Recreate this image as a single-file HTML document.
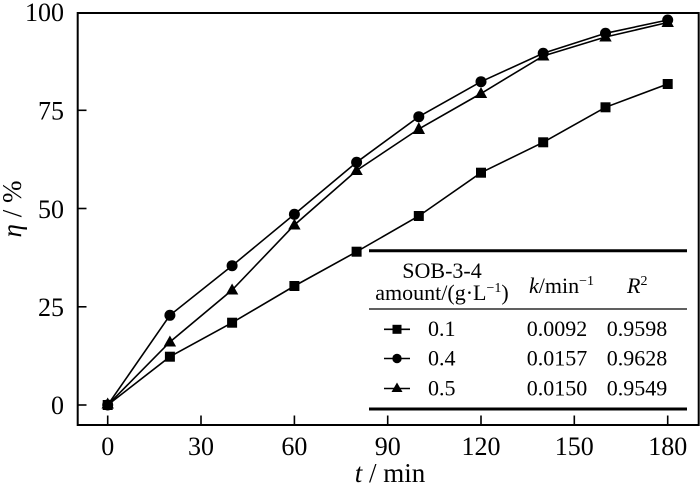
<!DOCTYPE html>
<html>
<head>
<meta charset="utf-8">
<style>
html,body{margin:0;padding:0;background:#fff;}
svg{display:block;}
text{font-family:"Liberation Serif","DejaVu Serif",serif;fill:#000;}
</style>
</head>
<body>
<svg width="700" height="489" viewBox="0 0 700 489" xmlns="http://www.w3.org/2000/svg">
  <!-- frame -->
  <rect x="77.7" y="13" width="621" height="412" fill="none" stroke="#000" stroke-width="2"/>
  <!-- y ticks -->
  <g stroke="#000" stroke-width="1.6">
    <line x1="77.7" y1="405" x2="86.5" y2="405"/>
    <line x1="77.7" y1="306.8" x2="86.5" y2="306.8"/>
    <line x1="77.7" y1="208.5" x2="86.5" y2="208.5"/>
    <line x1="77.7" y1="110.3" x2="86.5" y2="110.3"/>
    <!-- x ticks -->
    <line x1="107.7" y1="425" x2="107.7" y2="415.5"/>
    <line x1="201" y1="425" x2="201" y2="415.5"/>
    <line x1="294.4" y1="425" x2="294.4" y2="415.5"/>
    <line x1="387.7" y1="425" x2="387.7" y2="415.5"/>
    <line x1="481" y1="425" x2="481" y2="415.5"/>
    <line x1="574.3" y1="425" x2="574.3" y2="415.5"/>
    <line x1="667.7" y1="425" x2="667.7" y2="415.5"/>
  </g>
  <!-- y tick labels -->
  <g font-size="26" text-anchor="end">
    <text x="64" y="414">0</text>
    <text x="64" y="316">25</text>
    <text x="64" y="218">50</text>
    <text x="64" y="119.5">75</text>
    <text x="64" y="21">100</text>
  </g>
  <!-- x tick labels -->
  <g font-size="26" text-anchor="middle">
    <text x="107.7" y="455">0</text>
    <text x="201" y="455">30</text>
    <text x="294.4" y="455">60</text>
    <text x="387.7" y="455">90</text>
    <text x="481" y="455">120</text>
    <text x="574.3" y="455">150</text>
    <text x="667.7" y="455">180</text>
  </g>
  <!-- axis titles -->
  <text x="390" y="482" font-size="27" text-anchor="middle"><tspan font-style="italic">t</tspan> / min</text>
  <text transform="translate(21,209) rotate(-90)" font-size="27" text-anchor="middle"><tspan font-style="italic">η</tspan> / %</text>

  <!-- series lines -->
  <g fill="none" stroke="#000" stroke-width="1.6">
    <polyline points="107.7,405 169.9,356.7 232.1,322.7 294.4,286 356.6,251.7 418.8,216 481,172.7 543.2,142.3 605.5,107.3 667.7,84"/>
    <polyline points="107.7,405 169.9,315.3 232.1,265.7 294.4,214.3 356.6,162.3 418.8,116.7 481,81.7 543.2,53.3 605.5,33.3 667.7,20"/>
    <polyline points="107.7,405 169.9,342 232.1,290 294.4,225 356.6,170.5 418.8,129 481,93.5 543.2,56 605.5,37 667.7,22.5"/>
  </g>
  <!-- triangles -->
  <g fill="#000">
    <polygon points="107.7,397.5 101.5,408.5 113.9,408.5"/>
    <polygon points="169.9,335.5 163.7,346.5 176.1,346.5"/>
    <polygon points="232.1,283.5 225.9,294.5 238.3,294.5"/>
    <polygon points="294.4,218.5 288.2,229.5 300.6,229.5"/>
    <polygon points="356.6,164 350.4,175 362.8,175"/>
    <polygon points="418.8,122 412.6,134 425,134"/>
    <polygon points="481,87 474.8,98 487.2,98"/>
    <polygon points="543.2,49.5 537,60.5 549.4,60.5"/>
    <polygon points="605.5,30.5 599.3,41.5 611.7,41.5"/>
    <polygon points="667.7,16 661.5,27 673.9,27"/>
  </g>
  <!-- circles -->
  <g fill="#000">
    <circle cx="107.7" cy="405" r="5.5"/>
    <circle cx="169.9" cy="315.3" r="5.5"/>
    <circle cx="232.1" cy="265.7" r="5.5"/>
    <circle cx="294.4" cy="214.3" r="5.5"/>
    <circle cx="356.6" cy="162.3" r="5.5"/>
    <circle cx="418.8" cy="116.7" r="5.5"/>
    <circle cx="481" cy="81.7" r="5.5"/>
    <circle cx="543.2" cy="53.3" r="5.5"/>
    <circle cx="605.5" cy="33.3" r="5.5"/>
    <circle cx="667.7" cy="20" r="5.5"/>
  </g>
  <!-- squares -->
  <g fill="#000">
    <rect x="102.7" y="400" width="10" height="10"/>
    <rect x="164.9" y="351.7" width="10" height="10"/>
    <rect x="227.1" y="317.7" width="10" height="10"/>
    <rect x="289.4" y="281" width="10" height="10"/>
    <rect x="351.6" y="246.7" width="10" height="10"/>
    <rect x="413.8" y="211" width="10" height="10"/>
    <rect x="476" y="167.7" width="10" height="10"/>
    <rect x="538.2" y="137.3" width="10" height="10"/>
    <rect x="600.5" y="102.3" width="10" height="10"/>
    <rect x="662.7" y="79" width="10" height="10"/>
  </g>

  <!-- legend table -->
  <g stroke="#000">
    <line x1="369" y1="250.7" x2="687" y2="250.7" stroke-width="3"/>
    <line x1="369" y1="309" x2="687" y2="309" stroke-width="1.2"/>
    <line x1="369" y1="409" x2="687" y2="409" stroke-width="3"/>
  </g>
  <g font-size="22">
    <text x="442" y="278" text-anchor="middle">SOB-3-4</text>
    <text x="442" y="300" text-anchor="middle">amount/(g·L<tspan font-size="14" dy="-8">−1</tspan><tspan dy="8">)</tspan></text>
    <text x="529" y="293"><tspan font-style="italic">k</tspan>/min<tspan font-size="14" dy="-8">−1</tspan></text>
    <text x="627" y="293"><tspan font-style="italic">R</tspan><tspan font-size="14" dy="-8">2</tspan></text>

    <text x="428" y="336">0.1</text>
    <text x="526.7" y="336">0.0092</text>
    <text x="606.7" y="336">0.9598</text>

    <text x="428" y="365.5">0.4</text>
    <text x="526.7" y="365.5">0.0157</text>
    <text x="606.7" y="365.5">0.9628</text>

    <text x="428" y="395.5">0.5</text>
    <text x="526.7" y="395.5">0.0150</text>
    <text x="606.7" y="395.5">0.9549</text>
  </g>
  <g stroke="#000" stroke-width="1.6">
    <line x1="384" y1="329.3" x2="410" y2="329.3"/>
    <line x1="384" y1="358.5" x2="410" y2="358.5"/>
    <line x1="384" y1="388.5" x2="410" y2="388.5"/>
  </g>
  <g fill="#000">
    <rect x="392.5" y="324.8" width="9" height="9"/>
    <circle cx="397" cy="358.5" r="4.7"/>
    <polygon points="397,382.5 391.5,392 402.5,392"/>
  </g>
</svg>
</body>
</html>
